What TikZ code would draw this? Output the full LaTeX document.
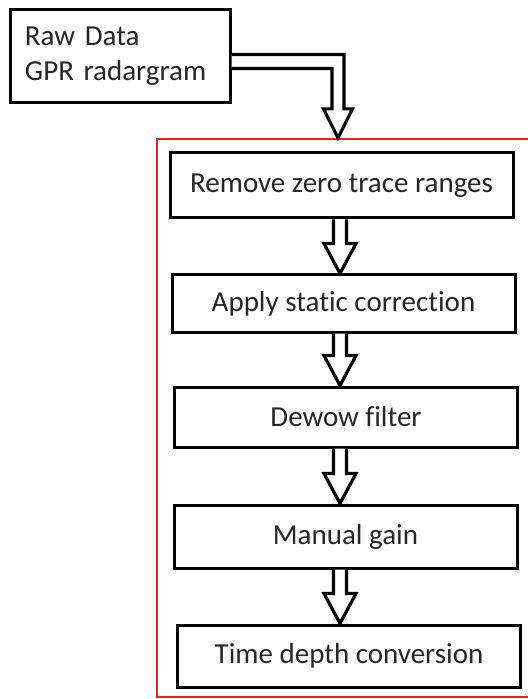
\documentclass[tikz,border=0pt]{standalone}
\usepackage{fontspec}
\setmainfont[Ligatures={NoCommon}]{Carlito}
\usepackage{xcolor}
\usepackage{tikz}
\usetikzlibrary{calc}
\definecolor{frame}{RGB}{225,35,35}
\tikzset{every picture/.style={x=0.5pt,y=-0.5pt},
  stepbox/.style={rectangle, draw=black, line width=1.5pt, fill=white,
    minimum width=171.5pt, minimum height=31pt, inner sep=0pt,
    text=black!85, font=\fontsize{14.5}{17.5}\selectfont},
  hollow/.style={draw=black, line width=1.6pt, fill=white, line join=miter},
  redframe/.style={rectangle, draw=frame, line width=1.1pt, inner sep=0pt}}

\begin{document}
\begin{tikzpicture}
        \useasboundingbox (0,0) rectangle (528,699);

        \node[redframe, minimum width=191.5pt, minimum height=279pt] (stage) at (348.5,418) {};

        \node[stepbox, minimum width=110pt, minimum height=46.5pt, text width=95pt, align=left] (raw) at (120,56.5) {Raw Data\\GPR radargram};

        \node[stepbox, minimum height=32.5pt] (b1) at (341.5,185.5) {Remove zero trace ranges};
        \node[stepbox, minimum height=28.5pt] (b2) at (343.5,303.5) {Apply static correction};
        \node[stepbox, minimum height=30pt] (b3) at (346,417) {Dewow filter};
        \node[stepbox, minimum height=31.5pt] (b4) at (345.5,536.5) {Manual gain};
        \node[stepbox, minimum height=31pt] (b5) at (349,656) {Time depth conversion};

        \coordinate (bx) at (338,0);
        \coordinate (ax) at (340,0);

        \draw[hollow] ($(raw.east)+(0,-2)$) -| ($(stage.north -| bx)+(6,-29)$) -- ++(8.5,0)
          -- (stage.north -| bx) -- ++(-14.5,-29) -- ++(8.5,0) |- ($(raw.east)+(0,12)$);

        \foreach \a/\b in {b1/b2, b2/b3, b3/b4, b4/b5}
        \draw[hollow] ($(\a.south -| ax)+(-6.5,0)$) -- ($(\b.north -| ax)+(-6.5,-30)$) -- ++(-9.5,0)
          -- (\b.north -| ax) -- ++(16,-30) -- ++(-9.5,0) -- ($(\a.south -| ax)+(6.5,0)$);
      \end{tikzpicture}
\end{document}
